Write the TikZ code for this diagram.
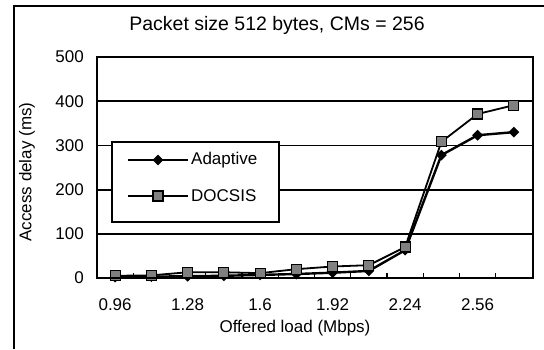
\documentclass[tikz,border=0pt]{standalone}
\usepackage{fontspec}
\setmainfont{Liberation Sans}
\usetikzlibrary{shapes.geometric}

\tikzset{
  dmark/.style={diamond, fill=black, inner sep=0pt, minimum size=11pt},
  smark/.style={rectangle, draw=black, fill=black!50, line width=1.2pt, inner sep=0pt, minimum size=10pt},
  grid line/.style={line width=1.8pt},
  lbl/.style={font=\fontsize{17}{20}\selectfont, inner sep=0pt}
}

\begin{document}
\begin{tikzpicture}[x=1pt, y=1pt]
                \useasboundingbox (0,0) rectangle (544,349);
                \draw[line width=2pt] (14,0) -- (14,343) -- (544,343);
                \node[font=\fontsize{19.5}{23}\selectfont, inner sep=0pt] (title) at (277,324) {Packet size 512 bytes, CMs = 256};

                \foreach \v in {1,...,4} {
                        \draw[grid line] (97,71+44.2*\v) -- (533,71+44.2*\v);
                    }
                \foreach \v/\t in {0/0,1/100,2/200,3/300,4/400,5/500} {
                        \node[lbl, anchor=east] (y\v) at (84,71+44.2*\v) {\t};
                    }
                \foreach \k in {1,...,11} {
                        \draw[line width=1.2pt] (97+36.25*\k,71) -- ++(0,5);
                    }
                \foreach \t [count=\i from 0] in {0.96,1.28,1.6,1.92,2.24,2.56} {
                        \node[lbl] (x\i) at (97+36.25*2*\i+18.1,44) {\t};
                    }
                \node[lbl, rotate=90] (ytitle) at (27,177) {Access delay (ms)};
                \node[lbl] (xtitle) at (295,21) {Offered load (Mbps)};

                \begin{scope}[shift={(97,71)}, x=36.25pt, y=0.442pt]
                        \draw[line width=1.8pt] plot coordinates {(0.5,5) (1.5,6) (2.5,13) (3.5,13) (4.5,11) (5.5,20) (6.5,26) (7.5,29) (8.5,70) (9.5,308) (10.5,371) (11.5,391)};
                        \draw[line width=2.4pt] plot coordinates {(0.5,2) (1.5,3) (2.5,4) (3.5,5) (4.5,7) (5.5,9) (6.5,12) (7.5,16) (8.5,63) (9.5,278) (10.5,323) (11.5,330)};
                        \foreach \x/\y [count=\i] in {0.5/2,1.5/3,2.5/4,3.5/5,4.5/7,5.5/9,6.5/12,7.5/16,8.5/63,9.5/278,10.5/323,11.5/330} {
                                \node[dmark] (a\i) at (\x,\y) {};
                            }
                        \foreach \x/\y [count=\i] in {0.5/5,1.5/6,2.5/13,3.5/13,4.5/11,5.5/20,6.5/26,7.5/29,8.5/70,9.5/308,10.5/371,11.5/391} {
                                \node[smark] (d\i) at (\x,\y) {};
                            }
                    \end{scope}
                \draw[line width=2.2pt] (97,71) rectangle (533,292);

                \draw[line width=2.2pt, fill=white] (112,127) rectangle (279,207);
                \draw[line width=2.4pt] (128,189) -- (188,189);
                \node[dmark] (lgA) at (158,189) {};
                \node[lbl, anchor=west] (txtA) at (191,189) {Adaptive};
                \draw[line width=1.8pt] (128,153) -- (188,153);
                \node[smark] (lgD) at (158,153) {};
                \node[lbl, anchor=west] (txtD) at (191,153) {DOCSIS};
            \end{tikzpicture}
\end{document}
